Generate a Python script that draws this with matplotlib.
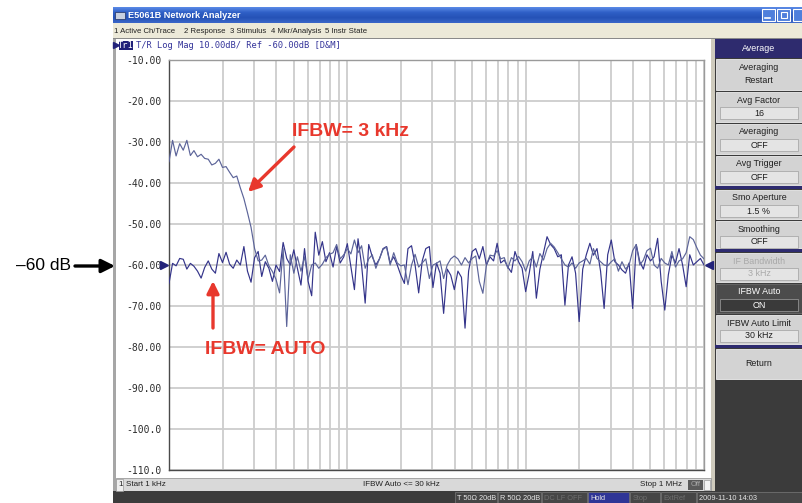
import matplotlib
matplotlib.use('Agg')
import matplotlib.pyplot as plt
import matplotlib.patches as mpatches
import matplotlib.transforms as mtransforms
from matplotlib.colors import LinearSegmentedColormap
import numpy as np

# ---- sweep data (frequency in kHz, trace in dB) ----
freq_khz = [
    1.000, 1.047, 1.096, 1.148, 1.202, 1.259, 1.318, 1.380, 1.445, 1.514,
    1.585, 1.660, 1.738, 1.820, 1.905, 1.995, 2.089, 2.188, 2.291, 2.399,
    2.512, 2.630, 2.754, 2.884, 3.020, 3.162, 3.311, 3.467, 3.631, 3.802,
    3.981, 4.169, 4.365, 4.571, 4.786, 5.012, 5.248, 5.495, 5.754, 6.026,
    6.310, 6.607, 6.918, 7.244, 7.586, 7.943, 8.318, 8.710, 9.120, 9.550,
    10.00, 10.47, 10.96, 11.48, 12.02, 12.59, 13.18, 13.80, 14.45, 15.14,
    15.85, 16.60, 17.38, 18.20, 19.05, 19.95, 20.89, 21.88, 22.91, 23.99,
    25.12, 26.30, 27.54, 28.84, 30.20, 31.62, 33.11, 34.67, 36.31, 38.02,
    39.81, 41.69, 43.65, 45.71, 47.86, 50.12, 52.48, 54.95, 57.54, 60.26,
    63.10, 66.07, 69.18, 72.44, 75.86, 79.43, 83.18, 87.10, 91.20, 95.50,
    100.0, 104.7, 109.6, 114.8, 120.2, 125.9, 131.8, 138.0, 144.5, 151.4,
    158.5, 166.0, 173.8, 182.0, 190.5, 199.5, 208.9, 218.8, 229.1, 239.9,
    251.2, 263.0, 275.4, 288.4, 302.0, 316.2, 331.1, 346.7, 363.1, 380.2,
    398.1, 416.9, 436.5, 457.1, 478.6, 501.2, 524.8, 549.5, 575.4, 602.6,
    631.0, 660.7, 691.8, 724.4, 758.6, 794.3, 831.8, 871.0, 912.0, 955.0,
    1000.0,
]

# IFBW = 3 kHz trace
db_ifbw_3k = [
    -34.8, -29.6, -33.4, -30.4, -32.0, -29.6, -33.3, -32.1, -33.6, -33.0,
    -34.0, -34.2, -35.6, -35.2, -34.2, -36.2, -36.0, -37.4, -38.7, -38.3,
    -41.2, -43.8, -47.2, -50.8, -56.0, -59.0, -58.8, -57.6, -60.2, -61.6,
    -63.5, -66.8, -56.0, -75.0, -57.5, -62.0, -58.0, -61.5, -58.0, -63.5,
    -60.0, -59.5, -60.8, -59.8, -58.2, -57.4, -57.0, -55.0, -58.5, -57.5,
    -56.0, -57.3, -53.9, -57.0, -55.3, -60.8, -58.5, -57.5, -60.8, -58.5,
    -56.2, -55.6, -60.0, -57.0, -59.5, -60.2, -60.0, -64.8, -60.0, -57.4,
    -60.5, -59.5, -58.5, -63.3, -60.0, -59.6, -59.0, -63.3, -60.0, -58.5,
    -57.8, -58.5, -60.0, -58.2, -59.5, -58.4, -57.8, -64.0, -66.9, -60.0,
    -57.6, -57.8, -56.5, -58.5, -58.2, -60.8, -58.2, -59.0, -57.9, -59.2,
    -61.5, -59.0, -58.0, -60.5, -57.2, -58.8, -56.0, -54.7, -55.6, -57.0,
    -58.5, -60.0, -60.5, -59.5, -60.8, -59.5, -59.0, -58.4, -59.8, -56.0,
    -58.4, -59.2, -60.0, -60.2, -59.2, -58.5, -61.5, -59.2, -61.0, -60.0,
    -56.5, -55.0, -60.0, -58.8, -56.5, -55.9, -60.0, -60.8, -58.4, -59.5,
    -60.0, -56.7, -60.5, -59.0, -58.5, -57.0, -53.1, -53.8, -55.8, -57.6,
    -58.5,
]

# IFBW = AUTO trace
db_ifbw_auto = [
    -64.5, -59.6, -60.2, -58.4, -58.6, -61.0, -59.6, -60.3, -61.5, -63.2,
    -60.6, -59.0, -61.0, -62.0, -57.2, -59.4, -56.9, -59.8, -60.8, -58.8,
    -60.0, -55.5, -61.5, -64.2, -58.2, -56.7, -62.8, -59.2, -60.8, -64.0,
    -60.0, -61.6, -54.5, -58.4, -60.0, -56.3, -60.8, -64.9, -56.0, -64.0,
    -67.5, -52.0, -57.6, -54.3, -59.2, -57.0, -60.5, -55.5, -59.5, -58.0,
    -54.8, -60.5, -66.0, -53.6, -60.0, -69.3, -55.0, -58.0, -60.0, -58.5,
    -56.0, -55.5, -59.5, -58.0, -60.0, -62.5, -64.5, -56.0, -55.3, -60.0,
    -66.8, -59.0, -56.0, -55.5, -65.5, -59.5, -62.0, -71.8, -61.0, -62.5,
    -66.0, -61.5, -63.0, -75.4, -61.5, -56.7, -56.0, -58.5, -55.5, -60.0,
    -58.0, -59.0, -54.7, -59.5, -58.8, -60.5, -61.8, -56.7, -59.2, -60.8,
    -66.5, -62.0, -56.7, -68.1, -61.0, -57.0, -53.1, -55.0, -56.0, -58.0,
    -57.5, -69.8, -60.0, -58.0, -62.0, -73.8, -61.0, -57.5, -54.7, -57.6,
    -56.0, -61.5, -70.6, -57.5, -53.9, -59.2, -60.0, -61.2, -62.0, -59.5,
    -70.6, -55.0, -59.2, -61.0, -57.5, -59.0, -58.0, -53.5, -64.0, -71.0,
    -62.4, -57.6, -59.5, -56.0, -60.0, -65.3, -57.5, -60.0, -59.2, -58.4,
    -60.0,
]

y_ticks = [-10, -20, -30, -40, -50, -60, -70, -80, -90, -100, -110]
y_tick_labels = ['-10.00', '-20.00', '-30.00', '-40.00', '-50.00', '-60.00',
                 '-70.00', '-80.00', '-90.00', '-100.0', '-110.0']
ref_level = -60

menu_items = ['1 Active Ch/Trace', '2 Response', '3 Stimulus', '4 Mkr/Analysis', '5 Instr State']
menu_x = [114, 184, 230, 271, 325]

# softkeys: (label, value, style)
softkeys = [
    ('Averaging', 'Restart', 'twoline'),
    ('Avg Factor', '16', 'normal'),
    ('Averaging', 'OFF', 'normal'),
    ('Avg Trigger', 'OFF', 'normal'),
    ('Smo Aperture', '1.5 %', 'normal'),
    ('Smoothing', 'OFF', 'normal'),
    ('IF Bandwidth', '3 kHz', 'disabled'),
    ('IFBW Auto', 'ON', 'active'),
    ('IFBW Auto Limit', '30 kHz', 'normal'),
    ('Return', '', 'single'),
]
softkey_top = [59, 92, 124, 156, 190, 221, 253, 284, 315, 349]
softkey_bottom = [90, 122, 154, 185, 219, 248, 282, 313, 344, 379]
separators = [186, 249, 345]

status_items = ['T 50\u03a9 20dB', 'R 50\u03a9 20dB', 'DC LF OFF', 'Hold', 'Stop', 'ExtRef', '2009-11-10 14:03']
status_x = [455, 498, 542, 588, 630, 661, 697]
status_w = [42, 43, 45, 41, 30, 35, 106]

W, H = 803, 503
fig = plt.figure(figsize=(W / 100, H / 100), dpi=100)
fig.patch.set_facecolor('white')

UI = ['Liberation Sans', 'DejaVu Sans']
NARROW = ['Liberation Sans Narrow', 'Liberation Sans', 'DejaVu Sans']
MONO = ['DejaVu Sans Mono']

# background axes in pixel coordinates
bg = fig.add_axes([0, 0, 1, 1])
bg.set_zorder(0)
bg.axis('off')


def box(x0, y0, x1, y1, fc, ec='none', lw=0, z=1):
    bg.add_patch(mpatches.Rectangle((x0, y0), x1 - x0, y1 - y0, facecolor=fc,
                                    edgecolor=ec, linewidth=lw, zorder=z))


# title bar gradient
title_cmap = LinearSegmentedColormap.from_list('xp', ['#5a8ae6', '#2f5fc6', '#2552b6', '#3a66c8'])
bg.imshow(np.linspace(0, 1, 32).reshape(-1, 1), cmap=title_cmap, aspect='auto',
          extent=(113, 803, 23, 7), zorder=1)
bg.text(128, 15.5, 'E5061B Network Analyzer', color='white', fontsize=6.6, fontweight='bold',
        family=UI, va='center', ha='left', zorder=3)
box(115, 12, 125, 19, '#c8d0e0', '#203060', 0.5, z=3)
for bx, bw in [(762, 13), (777, 13), (793, 10)]:
    box(bx, 9, bx + bw, 21, '#4f7fdc', 'white', 0.8, z=3)
bg.plot([765, 770], [18, 18], color='white', lw=1.2, zorder=4)
box(781, 12, 787, 18, 'none', 'white', 0.8, z=4)

# menu bar
box(113, 23, 803, 38, '#ece9d8')
for label, mx in zip(menu_items, menu_x):
    bg.text(mx, 31, label, fontsize=5.6, family=UI, color='#202020', va='center', ha='left', zorder=3)
box(113, 37.5, 803, 39, '#8a8a8a')

# window frame and white area
box(113, 39, 116, 503, '#a6a6a6')
box(116, 39, 711, 478, 'white')
box(711, 39, 715, 491, '#cfcbbd')

# trace header line
bg.plot([116.5], [45], marker='>', color='#22227a', markersize=4, zorder=3)
box(119, 40.5, 133, 50, '#22227a', z=3)
bg.text(126, 45.3, 'Tr1', color='white', fontsize=6.2, family=MONO, va='center', ha='center', zorder=4)
bg.text(136, 45.3, 'T/R Log Mag 10.00dB/ Ref -60.00dB [D&M]', color='#34349a', fontsize=6.3,
        family=MONO, va='center', ha='left', zorder=3)

# status line and bottom bar
box(116, 478, 711, 491, '#d9d9d9', '#9a9a9a', 0.6)
box(116, 478.5, 123, 490.5, '#eeeeee', '#9a9a9a', 0.5, z=2)
bg.text(118, 485, '1', fontsize=5.8, family=UI, color='#202020', va='center', zorder=3)
bg.text(126, 485, 'Start 1 kHz', fontsize=5.8, family=UI, color='#202020', va='center', zorder=3)
bg.text(363, 485, 'IFBW Auto <= 30 kHz', fontsize=5.8, family=UI, color='#202020', va='center', zorder=3)
bg.text(640, 485, 'Stop 1 MHz', fontsize=5.8, family=UI, color='#202020', va='center', zorder=3)
box(688, 479.5, 703, 489.5, '#5a5a5a', z=2)
bg.text(695.5, 484.8, 'Off', fontsize=5.4, family=UI, color='#a8a8a8', va='center', ha='center', zorder=3)
box(704, 479.5, 710, 489.5, '#f4f4f4', '#9a9a9a', 0.5, z=2)

box(113, 491, 803, 503, '#3c3c3c')
for txt, sx, sw in zip(status_items, status_x, status_w):
    fc = '#2f3596' if txt == 'Hold' else '#464646'
    tc = '#6e6e6e' if txt in ('DC LF OFF', 'Stop', 'ExtRef') else '#e6e6e6'
    box(sx, 492, sx + sw, 503, fc, '#7a7a7a', 0.5, z=2)
    bg.text(sx + 2.5, 498, txt, fontsize=5.3, family=UI, color=tc, va='center', ha='left', zorder=3)

# softkey panel
box(715, 39, 803, 491, '#3b3b3b')
box(715, 39, 803, 57.5, '#2e2b6e', z=2)
bg.text(759, 48.5, 'Average', color='white', fontsize=6.4, family=UI, va='center', ha='center', zorder=3)
for sy in separators:
    box(715, sy, 803, sy + 3, '#2e2b70', z=2)
for (label, value, style), t, b in zip(softkeys, softkey_top, softkey_bottom):
    face = '#4c4c4c' if style == 'active' else '#d3d3d3'
    tcol = 'white' if style == 'active' else ('#a9a9a9' if style == 'disabled' else '#1e1e1e')
    box(716, t, 802, b, face, '#f0f0f0' if style != 'active' else '#6a6a6a', 0.6, z=2)
    if style == 'twoline':
        bg.text(759, t + 8, label, fontsize=6.4, family=UI, color=tcol, va='center', ha='center', zorder=3)
        bg.text(759, t + 21, value, fontsize=6.4, family=UI, color=tcol, va='center', ha='center', zorder=3)
    elif style == 'single':
        bg.text(759, (t + b) / 2, label, fontsize=6.4, family=UI, color=tcol, va='center', ha='center', zorder=3)
    else:
        bg.text(759, t + 8, label, fontsize=6.4, family=UI, color=tcol, va='center', ha='center', zorder=3)
        vbox = '#3a3a3a' if style == 'active' else '#e4e4e4'
        box(720, t + 15, 798, t + 27, vbox, '#a0a0a0', 0.5, z=2.5)
        bg.text(759, t + 21, value, fontsize=6.4, family=UI, color=tcol, va='center', ha='center', zorder=3)

bg.set_xlim(0, W)
bg.set_ylim(H, 0)

# ---- measurement plot ----
ax = fig.add_axes([169 / W, 1 - 470 / H, 535 / W, 410 / H])
ax.set_zorder(1)
ax.patch.set_visible(False)
ax.set_xscale('log')
ax.set_xlim(1, 1000)
ax.set_ylim(-110, -10)
ax.set_yticks(y_ticks)
ax.set_yticklabels(y_tick_labels, family=MONO, fontsize=7, color='#2c2c2c')
ax.tick_params(axis='y', length=0, pad=5.5)
ax.tick_params(axis='x', which='both', length=0, labelbottom=False)
ax.set_axisbelow(True)
ax.grid(True, which='both', axis='x', color='#cdcdcd', lw=1.3)
ax.grid(True, which='major', axis='y', color='#cdcdcd', lw=1.3)
for side, sp in ax.spines.items():
    sp.set_color('#4a4a4a' if side in ('left', 'bottom') else '#9a9a9a')
    sp.set_linewidth(1.0)

ax.plot(freq_khz, db_ifbw_auto, color='#34348a', lw=0.85, zorder=3)
ax.plot(freq_khz, db_ifbw_3k, color='#5c6499', lw=0.85, zorder=3)

# reference level markers
edge = mtransforms.blended_transform_factory(ax.transAxes, ax.transData)
ax.plot([-0.009], [ref_level], marker='>', color='#23237a', markersize=6, transform=edge, clip_on=False)
ax.plot([1.01], [ref_level], marker='<', color='#23237a', markersize=6, transform=edge, clip_on=False)

# ---- annotations ----
over = fig.add_axes([0, 0, 1, 1])
over.set_zorder(2)
over.patch.set_visible(False)
over.axis('off')
over.set_xlim(0, W)
over.set_ylim(H, 0)

red = '#e8382d'
over.text(71, 266, '\u201360 dB', fontsize=12.5, family=NARROW, color='black', va='center', ha='right')
over.annotate('', xy=(115, 266), xytext=(75, 266),
              arrowprops=dict(arrowstyle='-|>', color='black', lw=2.4, mutation_scale=20, shrinkA=0, shrinkB=0))
over.text(292, 131, 'IFBW= 3 kHz', fontsize=14, family=NARROW, fontweight='bold', color=red,
          va='center', ha='left')
over.annotate('', xy=(248, 192), xytext=(294, 147),
              arrowprops=dict(arrowstyle='-|>', color=red, lw=2.4, mutation_scale=18, shrinkA=0, shrinkB=0))
over.text(205, 350, 'IFBW= AUTO', fontsize=14, family=NARROW, fontweight='bold', color=red,
          va='center', ha='left')
over.annotate('', xy=(213, 281), xytext=(213, 328),
              arrowprops=dict(arrowstyle='-|>', color=red, lw=2.4, mutation_scale=18, shrinkA=0, shrinkB=0))

fig.savefig('out.png', dpi=100)
